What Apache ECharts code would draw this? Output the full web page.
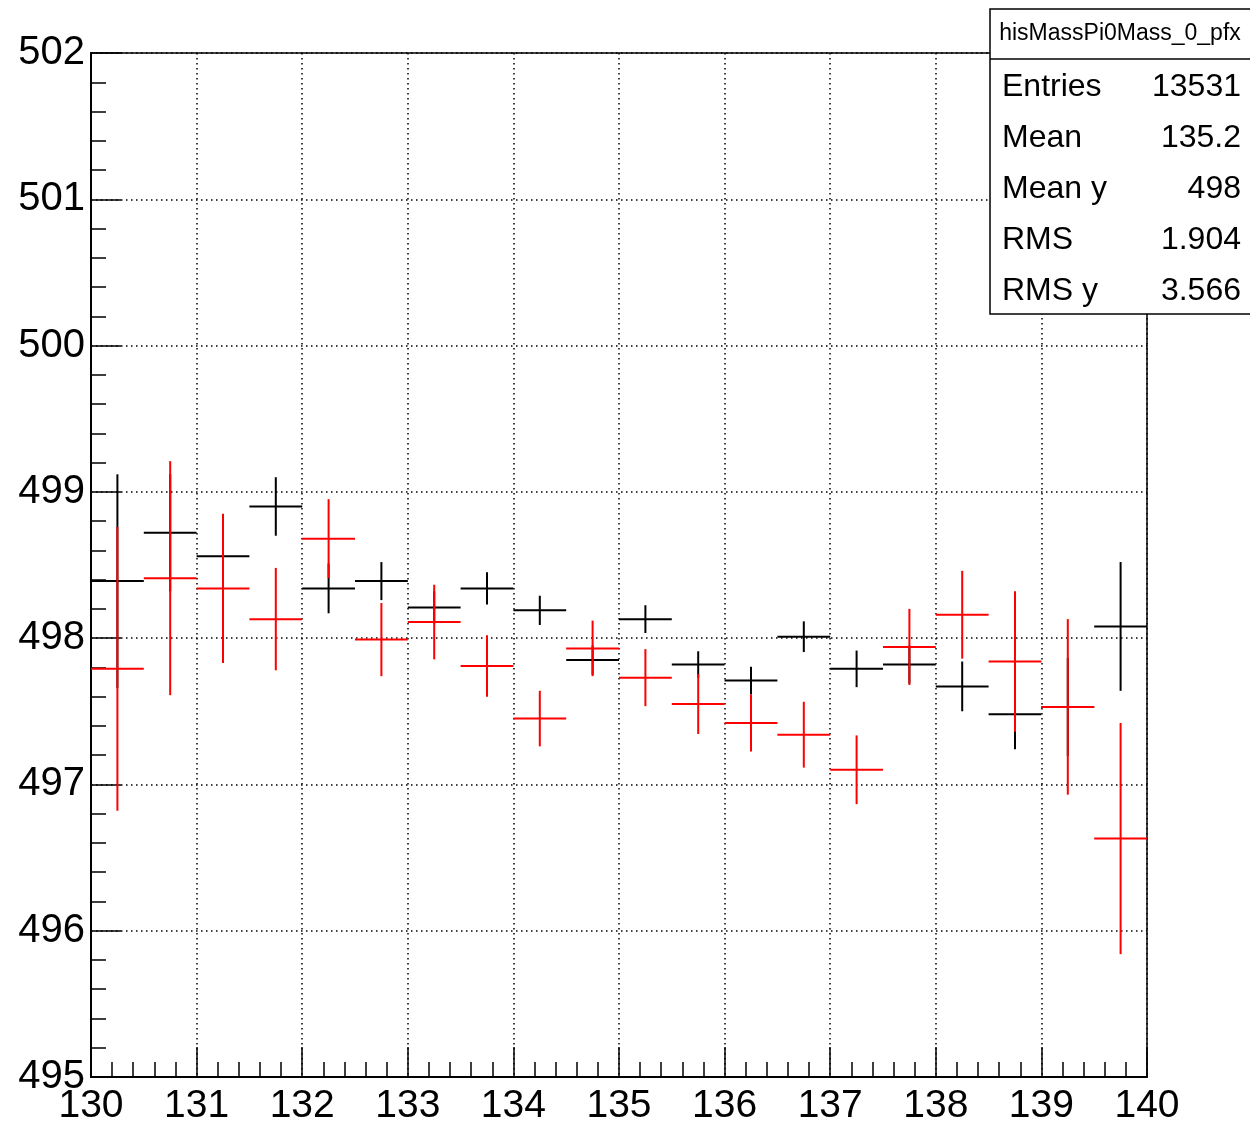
<!DOCTYPE html>
<html>
<head>
<meta charset="utf-8">
<script src="https://cdn.jsdelivr.net/npm/echarts@6/dist/echarts.min.js"></script>
<style>
html,body{margin:0;padding:0;background:#fff;}
#chart{width:1250px;height:1129px;}
</style>
</head>
<body>
<div id="chart"></div>
<script>
// ---- data ----
const binCenters = [130.25,130.75,131.25,131.75,132.25,132.75,133.25,133.75,134.25,134.75,
                    135.25,135.75,136.25,136.75,137.25,137.75,138.25,138.75,139.25,139.75];
const binWidth = 0.5;
const blackMean = [498.39,498.72,498.56,498.90,498.34,498.39,498.21,498.34,498.19,497.85,
                   498.13,497.82,497.71,498.01,497.79,497.82,497.67,497.48,497.53,498.08];
const blackErr  = [0.73,0.40,0.27,0.20,0.17,0.13,0.11,0.11,0.10,0.10,
                   0.095,0.09,0.095,0.105,0.125,0.13,0.17,0.24,0.335,0.44];
const redMean   = [497.79,498.41,498.34,498.13,498.68,497.99,498.11,497.81,497.45,497.93,
                   497.73,497.55,497.42,497.34,497.10,497.94,498.16,497.84,497.53,496.63];
const redErr    = [0.97,0.80,0.51,0.35,0.27,0.25,0.255,0.21,0.19,0.19,
                   0.195,0.205,0.195,0.225,0.235,0.26,0.30,0.48,0.60,0.79];
const statsTitle = 'hisMassPi0Mass_0_pfx';
const statsLabels = ['Entries','Mean','Mean y','RMS','RMS y'];
const statsValues = ['13531','135.2','498','1.904','3.566'];

const FONT = '"Liberation Sans", Arial, Helvetica, sans-serif';

function makeSeries(means, errs, color, name) {
  return {
    type: 'custom',
    name: name,
    data: binCenters.map((x, i) => [x, means[i], errs[i]]),
    encode: { x: 0, y: 1 },
    clip: false,
    renderItem: function (params, api) {
      const x = api.value(0), y = api.value(1), e = api.value(2);
      const pL = api.coord([x - binWidth / 2, y]);
      const pR = api.coord([x + binWidth / 2, y]);
      const pT = api.coord([x, y + e]);
      const pB = api.coord([x, y - e]);
      const st = { stroke: color, lineWidth: 2 };
      return {
        type: 'group',
        children: [
          { type: 'line', shape: { x1: pL[0], y1: pL[1], x2: pR[0], y2: pR[1] }, style: st },
          { type: 'line', shape: { x1: pT[0], y1: pT[1], x2: pB[0], y2: pB[1] }, style: st }
        ]
      };
    }
  };
}

const chart = echarts.init(document.getElementById('chart'), null, { renderer: 'canvas' });

const boxX = 990, boxY = 9, boxW = 262, boxH = 305, titleH = 50, rowStart = 87, rowStep = 51;
const graphics = [
  { type: 'rect', shape: { x: boxX, y: boxY, width: boxW, height: boxH },
    style: { fill: '#fff', stroke: '#000', lineWidth: 1.5 }, z: 100 },
  { type: 'line', shape: { x1: boxX, y1: boxY + titleH, x2: boxX + boxW, y2: boxY + titleH },
    style: { stroke: '#000', lineWidth: 1.5 }, z: 101 },
  { type: 'text', x: 1120, y: boxY + titleH / 2, z: 102,
    style: { text: statsTitle, font: '23px ' + FONT, fill: '#000', align: 'center', verticalAlign: 'middle' } }
];
statsLabels.forEach((lab, i) => {
  graphics.push({ type: 'text', x: 1002, y: rowStart + i * rowStep, z: 102,
    style: { text: lab, font: '32px ' + FONT, fill: '#000', align: 'left', verticalAlign: 'middle' } });
  graphics.push({ type: 'text', x: 1241, y: rowStart + i * rowStep, z: 102,
    style: { text: statsValues[i], font: '32px ' + FONT, fill: '#000', align: 'right', verticalAlign: 'middle' } });
});

chart.setOption({
  animation: false,
  backgroundColor: '#fff',
  grid: { left: 91, top: 53, right: 103, bottom: 52, show: true, borderColor: '#000', borderWidth: 1.5, backgroundColor: 'transparent' },
  xAxis: {
    type: 'value', min: 130, max: 140, interval: 1,
    axisLine: { show: true, onZero: false, lineStyle: { color: '#000', width: 2 } },
    axisTick: { show: true, inside: true, length: 30, lineStyle: { color: '#000', width: 1.5 } },
    minorTick: { show: true, splitNumber: 5, length: 15, lineStyle: { color: '#000', width: 1.5 } },
    splitLine: { show: true, lineStyle: { color: '#000', type: [1.5, 3.5], width: 1.5 } },
    axisLabel: { color: '#000', fontSize: 39, fontFamily: FONT, margin: 10, showMinLabel: true, showMaxLabel: true,
                 formatter: v => String(Math.round(v)) }
  },
  yAxis: {
    type: 'value', min: 495, max: 502, interval: 1,
    axisLine: { show: true, onZero: false, lineStyle: { color: '#000', width: 2 } },
    axisTick: { show: true, inside: true, length: 30, lineStyle: { color: '#000', width: 1.5 } },
    minorTick: { show: true, splitNumber: 5, length: 15, lineStyle: { color: '#000', width: 1.5 } },
    splitLine: { show: true, lineStyle: { color: '#000', type: [1.5, 3.5], width: 1.5 } },
    axisLabel: { color: '#000', fontSize: 40, fontFamily: FONT, margin: 6, showMinLabel: true, showMaxLabel: true,
                 formatter: v => String(Math.round(v)) }
  },
  series: [
    makeSeries(blackMean, blackErr, '#000000', 'black'),
    makeSeries(redMean, redErr, '#ff0000', 'red')
  ],
  graphic: graphics
});
</script>
</body>
</html>
